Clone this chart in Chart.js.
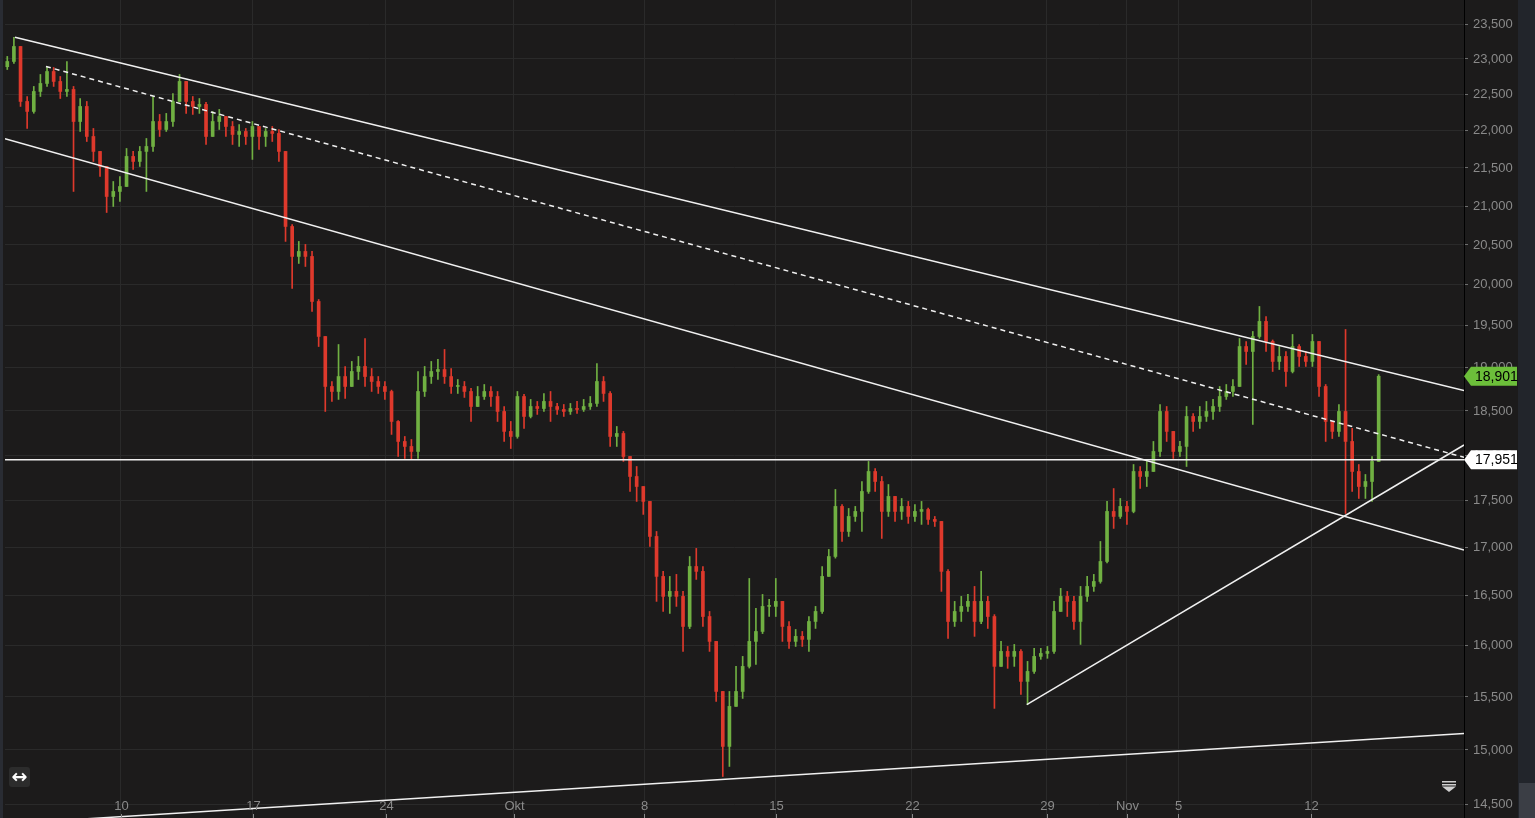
<!DOCTYPE html>
<html>
<head>
<meta charset="utf-8">
<title>Chart</title>
<script src="https://cdn.jsdelivr.net/npm/chart.js@4.4.0/dist/chart.umd.min.js"></script>
<style>
  html, body { margin: 0; padding: 0; background: #1c1b1b; overflow: hidden; }
  #wrap { position: relative; width: 1535px; height: 818px; }
  #myChart { position: absolute; left: 0; top: 0; }
  #edge { position: absolute; left: 0; top: 0; width: 3px; height: 818px; background: #292c33; }
  #scroll { position: absolute; left: 1518px; top: 0; width: 17px; height: 818px; background: #22252b; }
  #thumb { position: absolute; left: 1519px; top: 783px; width: 16px; height: 35px; background: #3b3e45; }
  #pan { position: absolute; left: 9px; top: 767px; width: 21px; height: 20px; background: #2c2c2c;
         border-radius: 3px; color: #fff; font: bold 19px "DejaVu Sans", sans-serif;
         text-align: center; line-height: 19px; }
</style>
</head>
<body>
<div id="wrap">
  <canvas id="myChart" width="1535" height="818"></canvas>
  <div id="edge"></div>
  <div id="scroll"></div>
  <div id="thumb"></div>
  <div id="pan">↔</div>
</div>
<script>
// candles (open = previous close)
const firstOpen = 22890;
const closes = [
  22964, 23178, 22403, 22265, 22542, 22654, 22822, 22682, 22542, 22570,
  22127, 22334, 21923, 21721, 21520, 21124, 21190, 21255, 21654, 21587,
  21721, 21788, 22127, 22018, 22127, 22403, 22682, 22403, 22334, 22362,
  21923, 22127, 22196, 22059, 21950, 21991, 21923, 22059, 21923, 21991,
  21964, 21721, 20736, 20355, 20418, 20355, 19796, 19372, 18782, 18724,
  18898, 18782, 18957, 19016, 18898, 18840, 18782, 18724, 18380, 18154,
  18098, 18042, 18724, 18898, 18957, 18980, 18898, 18782, 18782, 18724,
  18551, 18666, 18724, 18666, 18494, 18267, 18210, 18666, 18437, 18551,
  18528, 18609, 18551, 18517, 18494, 18528, 18517, 18551, 18586, 18840,
  18701, 18210, 18244, 17986, 17765, 17655, 17493, 17118, 16700, 16495,
  16546, 16495, 16191, 16803, 16752, 16291, 16042, 15553, 15033, 15410,
  15553, 15796, 16042, 16141, 16393, 16393, 16444, 16191, 16042, 16092,
  16062, 16241, 16342, 16700, 16907, 17439, 17171, 17331, 17385, 17601,
  17820, 17710, 17385, 17547, 17385, 17439, 17331, 17385, 17406, 17299,
  17278, 16752, 16241, 16342, 16393, 16444, 16241, 16444, 16291, 15796,
  15943, 15894, 15943, 15650, 15747, 15894, 15923, 15943, 16342, 16495,
  16444, 16241, 16495, 16597, 16648, 16855, 17385, 17331, 17439, 17385,
  17820, 17765, 17820, 18042, 18494, 18267, 18042, 18098, 18437, 18380,
  18437, 18494, 18551, 18666, 18724, 18782, 19252, 19193, 19372, 19553,
  19312, 19075, 19134, 18957, 19252, 19134, 19075, 19312, 18782, 18380,
  18267, 18494, 18154, 17820, 17655, 17710, 17931, 18901
];
const highs = [
  23036, 23308, 23178, 22472, 22612, 22780, 22893, 22879, 22752, 22964,
  22612, 22444, 22403, 22032, 21721, 21520, 21321, 21387, 21761, 21721,
  21788, 21896, 22472, 22224, 22238, 22514, 22780, 22682, 22472, 22444,
  22390, 22265, 22293, 22196, 22127, 22086, 22032, 22127, 22059, 22032,
  22059, 22018, 21721, 20760, 20545, 20507, 20418, 19820, 19372, 18840,
  19276, 19016, 19075, 19134, 19348, 18992, 18898, 18840, 18740, 18390,
  18210, 18176, 18957, 19016, 19075, 19099, 19217, 18992, 18863, 18840,
  18759, 18782, 18805, 18782, 18724, 18551, 18380, 18724, 18690, 18632,
  18609, 18701, 18724, 18586, 18574, 18586, 18609, 18632, 18666, 19051,
  18898, 18724, 18323, 18267, 17986, 17875, 17655, 17493, 17171, 16752,
  16700, 16721, 16546, 16907, 16992, 16803, 16342, 16042, 15553, 15553,
  15796, 15894, 16679, 16373, 16515, 16464, 16679, 16444, 16241, 16161,
  16141, 16291, 16393, 16803, 16981, 17623, 17460, 17417, 17439, 17710,
  17931, 17853, 17765, 17677, 17547, 17525, 17493, 17460, 17493, 17420,
  17331, 17278, 16770, 16444, 16495, 16515, 16597, 16752, 16495, 16310,
  16042, 15992, 16012, 15960, 15845, 15973, 15973, 15992, 16444, 16577,
  16546, 16495, 16597, 16700, 16721, 17065, 17493, 17633, 17525, 17493,
  17897, 17875, 17931, 18154, 18574, 18551, 18267, 18154, 18551, 18471,
  18551, 18609, 18632, 18782, 18805, 18863, 19348, 19312, 19432, 19735,
  19613, 19330, 19252, 19193, 19396, 19276, 19193, 19396, 19312, 18805,
  18380, 18574, 19456, 18301, 17897, 17787, 17986, 18920
];
const lows = [
  22850, 22936, 22334, 22032, 22240, 22472, 22612, 22612, 22444, 22472,
  21190, 21991, 21855, 21587, 21387, 20916, 20994, 21059, 21255, 21481,
  21520, 21190, 21721, 21923, 21991, 22059, 22403, 22238, 22224, 22238,
  21815, 21923, 22018, 21923, 21815, 21788, 21815, 21614, 21748, 21788,
  21855, 21587, 20545, 19956, 20267, 20229, 19674, 19252, 18494, 18609,
  18632, 18643, 18782, 18863, 18782, 18724, 18701, 18632, 18233, 17986,
  17964, 17953, 17964, 18666, 18817, 18863, 18817, 18701, 18701, 18655,
  18380, 18551, 18632, 18551, 18380, 18154, 18075, 18190, 18301, 18420,
  18460, 18494, 18380, 18460, 18437, 18460, 18471, 18494, 18517, 18551,
  18609, 18098, 18098, 17931, 17601, 17493, 17353, 17012, 16444, 16342,
  16322, 16393, 15943, 16170, 16669, 16191, 15943, 15457, 14756, 14848,
  15410, 15486, 15780, 15816, 16120, 16291, 16291, 16042, 15973, 15992,
  15992, 15943, 16171, 16322, 16700, 16890, 17065, 17118, 17278, 17171,
  17580, 17601, 17097, 17331, 17278, 17299, 17257, 17278, 17246, 17246,
  17224, 16546, 16072, 16191, 16241, 16342, 16092, 16220, 16171, 15391,
  15796, 15777, 15796, 15524, 15428, 15728, 15865, 15875, 15923, 16342,
  16291, 16161, 16012, 16444, 16546, 16630, 16840, 17203, 17310, 17246,
  17370, 17633, 17655, 17820, 17986, 18154, 17964, 17986, 17875, 18267,
  18301, 18380, 18403, 18494, 18632, 18666, 18782, 19040, 18346, 19350,
  19193, 18957, 18980, 18782, 18940, 19016, 19016, 19016, 18666, 18154,
  18187, 18210, 17363, 17601, 17525, 17525, 17493, 17931
];

// x axis is in trading days (Mon 3 Sep = 0), one candle per quarter day
const firstSlot = 0.72;
const slotStep = 0.25;
const xMin = 0.634;
const xMax = 55.69;
const tickDays = [5, 9.99, 15.0, 19.83, 24.76, 29.71, 34.85, 39.95, 42.96, 44.91, 49.93];
const tickLabels = ['10', '17', '24', 'Okt', '8', '15', '22', '29', 'Nov', '5', '12'];

const yMin = 14382;
const yMax = 23854;
const priceTicks = [14500, 15000, 15500, 16000, 16500, 17000, 17500, 18000, 18500, 19000,
                    19500, 20000, 20500, 21000, 21500, 22000, 22500, 23000, 23500];

const lastPrice = 18901;
const levelPrice = 17951;

// drawn trend lines, [day, price] end points
const upperLine = [[1.01, 23312], [55.69, 18735]];
const midLine = [[2.18, 22893], [55.69, 17976]];
const lowerLine = [[0.634, 21892], [55.69, 16976]];
const levelLine = [[0.634, levelPrice], [55.69, levelPrice]];
const riseLine = [[39.19, 15427], [55.69, 18114]];
const baseLine = [[0.634, 14330], [55.69, 15154]];

const UP = '#70b042';
const DOWN = '#de392c';
const LABEL = '#8a8a8a';
const GRID = '#2a2a2a';
const FONT = '"Liberation Sans", Arial, sans-serif';

const opens = closes.map((c, i) => i === 0 ? firstOpen : closes[i - 1]);
const xs = closes.map((c, i) => firstSlot + i * slotStep);
const colors = closes.map((c, i) => c >= opens[i] ? UP : DOWN);

function trend(points, dash) {
  return {
    type: 'line',
    data: points.map(p => ({ x: p[0], y: p[1] })),
    borderColor: '#f0f0f0',
    borderWidth: 1.5,
    borderDash: dash || [],
    pointRadius: 0,
    fill: false,
    order: 0
  };
}

function drawTag(ctx, py, fill, value, left) {
  const h = 19, w = 53;
  ctx.beginPath();
  ctx.moveTo(left, py);
  ctx.lineTo(left + 7, py - h / 2);
  ctx.lineTo(left + w, py - h / 2);
  ctx.lineTo(left + w, py + h / 2);
  ctx.lineTo(left + 7, py + h / 2);
  ctx.closePath();
  ctx.fillStyle = fill;
  ctx.fill();
  ctx.fillStyle = '#000';
  ctx.font = '14px ' + FONT;
  ctx.textAlign = 'left';
  ctx.textBaseline = 'middle';
  ctx.fillText(value.toLocaleString('en-US'), left + 11, py + 1);
}

const overlay = {
  id: 'overlay',
  afterDraw(chart) {
    const { ctx, chartArea: a, scales: { x, y } } = chart;
    ctx.save();
    // date labels sit inside the plot, at the bottom
    ctx.font = '13px ' + FONT;
    ctx.textAlign = 'center';
    ctx.textBaseline = 'middle';
    ctx.fillStyle = LABEL;
    ctx.strokeStyle = LABEL;
    ctx.lineWidth = 1;
    tickDays.forEach((d, i) => {
      const px = Math.round(x.getPixelForValue(d)) + 0.5;
      ctx.fillText(tickLabels[i], px, a.bottom - 12);
      ctx.beginPath();
      ctx.moveTo(px, a.bottom - 4);
      ctx.lineTo(px, a.bottom);
      ctx.stroke();
    });

    drawTag(ctx, y.getPixelForValue(lastPrice), '#6cbf3a', lastPrice, a.right);
    drawTag(ctx, y.getPixelForValue(levelPrice), '#ffffff', levelPrice, a.right);

    // little menu icon, bottom right of the plot
    const ix = a.right - 22, iy = a.bottom - 37;
    ctx.fillStyle = '#cfcfcf';
    ctx.fillRect(ix, iy, 14, 1.5);
    ctx.fillRect(ix, iy + 3, 14, 1.5);
    ctx.beginPath();
    ctx.moveTo(ix, iy + 5.5);
    ctx.lineTo(ix + 14, iy + 5.5);
    ctx.lineTo(ix + 7, iy + 11);
    ctx.closePath();
    ctx.fill();
    ctx.restore();
  }
};

new Chart('myChart', {
  type: 'bar',
  data: {
    datasets: [
      {
        data: xs.map((x, i) => ({ x: x, y: [lows[i], highs[i]] })),
        backgroundColor: colors,
        borderWidth: 0,
        barThickness: 1,
        grouped: false,
        order: 2
      },
      {
        data: xs.map((x, i) => ({ x: x, y: [opens[i], closes[i]] })),
        backgroundColor: colors,
        borderWidth: 0,
        barThickness: 3,
        minBarLength: 1,
        grouped: false,
        order: 1
      },
      trend(upperLine),
      trend(midLine, [5, 4]),
      trend(lowerLine),
      trend(levelLine),
      trend(riseLine),
      trend(baseLine)
    ]
  },
  options: {
    responsive: false,
    animation: false,
    events: [],
    layout: { padding: { left: 5, right: 17, top: 0, bottom: 0 } },
    plugins: { legend: { display: false }, tooltip: { enabled: false } },
    scales: {
      x: {
        type: 'linear',
        min: xMin,
        max: xMax,
        offset: false,
        grid: { color: GRID, drawTicks: false, offset: false },
        border: { display: false },
        ticks: { display: false },
        afterBuildTicks: s => { s.ticks = tickDays.map(v => ({ value: v })); },
        afterFit: s => { s.paddingLeft = 0; s.paddingRight = 0; }
      },
      y: {
        type: 'logarithmic',
        position: 'right',
        min: yMin,
        max: yMax,
        beginAtZero: false,
        grid: { color: GRID, tickColor: '#6e6e6e', tickLength: 4 },
        border: { display: true, color: '#000', width: 1 },
        ticks: {
          color: LABEL,
          font: { family: FONT, size: 13 },
          padding: 5,
          autoSkip: false,
          callback: v => Number(v).toLocaleString('en-US')
        },
        afterBuildTicks: s => { s.ticks = priceTicks.map(v => ({ value: v })); },
        afterFit: s => { s.width = 54; s.paddingTop = 0; s.paddingBottom = 0; }
      }
    }
  },
  plugins: [overlay]
});
</script>
</body>
</html>
